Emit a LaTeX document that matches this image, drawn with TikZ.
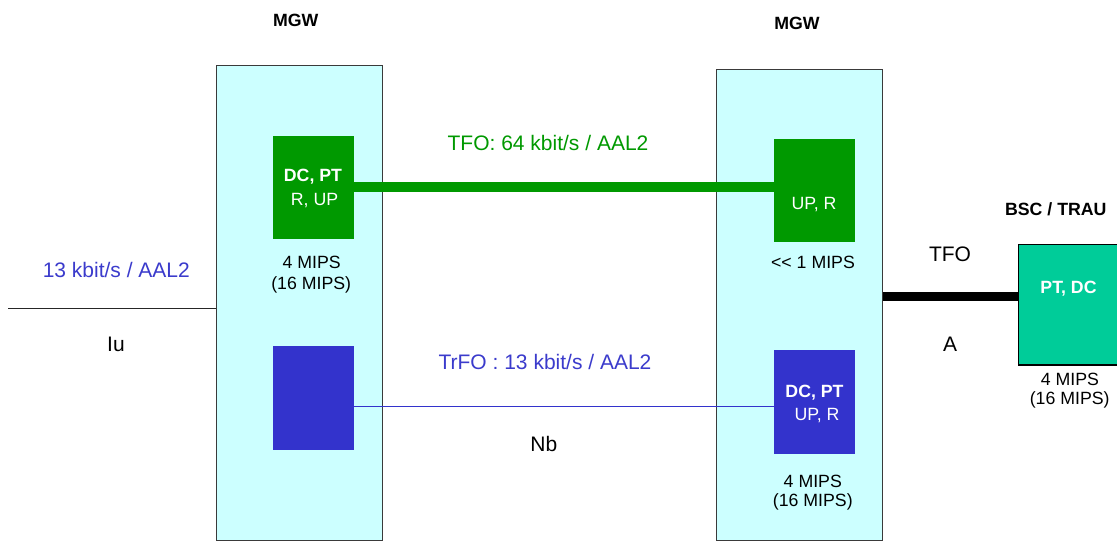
\documentclass[tikz,border=0pt]{standalone}
\usepackage{fontspec}
\setmainfont{Liberation Sans}
\definecolor{cyanfill}{HTML}{CCFFFF}
\definecolor{mgwline}{HTML}{3A3A3A}
\definecolor{boxgreen}{HTML}{009900}
\definecolor{boxblue}{HTML}{3333CC}
\definecolor{txtblue}{HTML}{3B3BCC}
\definecolor{bscfill}{HTML}{00CC99}
\tikzset{
  mgwbox/.style={draw=mgwline, line width=1pt, fill=cyanfill, minimum width=124.2pt, inner sep=0pt},
  gbox/.style={fill=boxgreen, minimum width=60.5pt, minimum height=77.5pt, inner sep=0pt},
  bbox/.style={fill=boxblue, minimum width=60.5pt, minimum height=78pt, inner sep=0pt},
  bscbox/.style={draw=black, line width=0.8pt, fill=bscfill, minimum width=83.8pt, minimum height=90.5pt, inner sep=0pt},
  txt/.style={anchor=base, inner sep=0pt, font=\fontsize{13.3}{15}\selectfont},
  btxt/.style={txt, font=\fontsize{13.3}{15}\selectfont\bfseries},
  ltxt/.style={anchor=base, inner sep=0pt, font=\fontsize{15.75}{18}\selectfont},
  wtxt/.style={txt, text=white},
  wbtxt/.style={btxt, text=white},
  greenline/.style={draw=boxgreen, line width=7.5pt},
  blueline/.style={draw=boxblue, line width=1pt},
  blackline/.style={draw=black, line width=6.75pt},
  iuline/.style={draw=black!85, line width=0.9pt}
}
\begin{document}
\begin{tikzpicture}[x=0.75pt, y=-0.75pt]
\clip (0,0) rectangle (1117,543);
\fill[white] (0,0) rectangle (1117,543);
% MGW boxes
\node[mgwbox, minimum height=356.1pt] (mgw1) at (299.5,303.1) {};
\node[mgwbox, minimum height=353.25pt] (mgw2) at (799.5,304.8) {};
% helper coordinates
\coordinate (gl) at (0,186.7);
\coordinate (bl) at (0,406.7);
\coordinate (al) at (0,296);
\coordinate (iu) at (8,308.3);
% BSC box
\node[bscbox] (bsc) at (1074.15,304.65) {};
% inner boxes
\node[gbox] (lg) at (313.7,187.35) {};
\node[gbox] (rg) at (814.35,190.65) {};
\node[bbox] (lb) at (313.7,398) {};
\node[bbox] (rb) at (814.35,402) {};
% connectors
\draw[greenline] (lg.east |- gl) -- (rg.west |- gl);
\draw[blueline] (lb.east |- bl) -- (rb.west |- bl);
\draw[blackline] (mgw2.east |- al) -- (bsc.west |- al);
\draw[iuline] (iu) -- (iu -| mgw1.west);
% headers
\node[btxt] (h1) at (295.8,26.7) {MGW};
\node[btxt] (h2) at (797,29.3) {MGW};
\node[btxt] (h3) at (1055.8,215) {BSC / TRAU};
% left MGW texts
\node[wbtxt] (t1) at (313,181.7) {DC, PT};
\node[wtxt] (t2) at (314.5,205) {R, UP};
\node[txt] (t3) at (311.7,268) {4 MIPS};
\node[txt] (t4) at (311.2,289) {(16 MIPS)};
% right MGW texts
\node[wtxt] (t5) at (814,209.3) {UP, R};
\node[txt] (t6) at (813,268.3) {<{}< 1 MIPS};
\node[wbtxt] (t7) at (814.5,397.3) {DC, PT};
\node[wtxt] (t8) at (817,420.7) {UP, R};
\node[txt] (t9) at (812.8,487.3) {4 MIPS};
\node[txt] (t10) at (812.8,506.5) {(16 MIPS)};
% BSC texts
\node[wbtxt] (t11) at (1068.5,293.3) {PT, DC};
\node[txt] (t12) at (1070,385) {4 MIPS};
\node[txt] (t13) at (1069.7,404.5) {(16 MIPS)};
% link labels
\node[ltxt, text=txtblue] (l1) at (116.3,277.7) {13 kbit/s / AAL2};
\node[ltxt] (l2) at (116,351.7) {Iu};
\node[ltxt, text=boxgreen] (l3) at (548,150) {TFO: 64 kbit/s / AAL2};
\node[ltxt, text=txtblue] (l4) at (545,369) {TrFO : 13 kbit/s / AAL2};
\node[ltxt] (l5) at (543.8,451.5) {Nb};
\node[ltxt] (l6) at (950,261.7) {TFO};
\node[ltxt] (l7) at (950,351.7) {A};
\end{tikzpicture}
\end{document}
